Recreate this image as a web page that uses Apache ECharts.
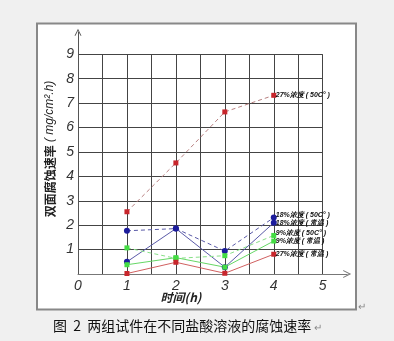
<!DOCTYPE html>
<html><head><meta charset="utf-8">
<script src="https://cdn.jsdelivr.net/npm/echarts@6/dist/echarts.min.js"></script>
<style>html,body{margin:0;padding:0;background:#f0f0f0;}#c{width:394px;height:341px;}</style>
</head><body><div id="c"></div>
<script>
var times = [1, 2, 3, 4];
var xTicks = [0, 1, 2, 3, 4, 5];
var yTicks = [1, 2, 3, 4, 5, 6, 7, 8, 9];
var names = ['27%浓度 ( 50C° )', '18%浓度 ( 50C° )', '18%浓度 ( 常温 )', '9%浓度 ( 50C° )', '9%浓度 ( 常温 )', '27%浓度 ( 常温 )'];
var v27hot = [2.55, 4.55, 6.64, 7.32];
var v18hot = [1.77, 1.86, 0.94, 2.31];
var v18room = [0.50, 1.86, 0.28, 2.10];
var v9hot = [1.07, 0.64, 0.75, 1.58];
var v9room = [0.38, 0.67, 0.28, 1.35];
var v27room = [0.02, 0.48, 0.03, 0.81];
var yTitle = '双面腐蚀速率';
var yUnit = '( mg/cm².h)';
var xTitle = '时间(h)';
var caption = '图  2  两组试件在不同盐酸溶液的腐蚀速率';

function pts(v){ return times.map(function(t,i){ return [t, v[i]]; }); }
var chevron = 'path://M0,10 L5,0 L10,10 L8.6,10 L5,2.8 L1.4,10 Z';
var lblStyle = {show:true, formatter:'{a}', distance:2, fontSize:7, fontWeight:'bold', fontStyle:'italic', color:'#111', fontFamily:'Arial'};
function ser(i, v, sym, symColor, lineColor, dashed, offY){
  return {
    name: names[i], type:'line', xAxisIndex:0, yAxisIndex:0, data: pts(v),
    symbol: sym, symbolSize: sym==='rect'?5:6, showSymbol:true,
    itemStyle:{color:symColor}, lineStyle:{color:lineColor, width:1, type: dashed?[4,3]:'solid'},
    endLabel: Object.assign({}, lblStyle, {offset:[0, offY||0]}),
    animation:false
  };
}
var chart = echarts.init(document.getElementById('c'));
var axLabel = {fontSize:14, fontStyle:'italic', color:'#333', fontFamily:'Arial'};
chart.setOption({
  backgroundColor:'#f0f0f0',
  animation:false,
  grid:[
    {left:78, right:71.3, top:54.3, bottom:67},
    {left:78, right:46.8, top:32.3, bottom:67}
  ],
  xAxis:[
    {type:'value', gridIndex:0, min:0, max:5, interval:0.5,
     axisLine:{show:false}, axisTick:{show:false},
     splitLine:{show:true, lineStyle:{color:'#444', width:1}},
     axisLabel:Object.assign({}, axLabel, {margin:5, formatter:function(v){ return xTicks.indexOf(v)>=0 ? String(v) : ''; }})},
    {type:'value', gridIndex:1, min:0, max:5.5,
     axisLine:{show:true, lineStyle:{color:'#777', width:1}, symbol:['none', chevron], symbolSize:[8,9]},
     axisTick:{show:false}, axisLabel:{show:false}, splitLine:{show:false}}
  ],
  yAxis:[
    {type:'value', gridIndex:0, min:0, max:9, interval:1,
     axisLine:{show:false}, axisTick:{show:false},
     splitLine:{show:true, lineStyle:{color:'#444', width:1}},
     axisLabel:Object.assign({}, axLabel, {margin:4, formatter:function(v){ return yTicks.indexOf(v)>=0 ? String(v) : ''; }})},
    {type:'value', gridIndex:1, min:0, max:9.9,
     axisLine:{show:true, lineStyle:{color:'#555', width:1}, symbol:['none', chevron], symbolSize:[7,8]},
     axisTick:{show:false}, axisLabel:{show:false}, splitLine:{show:false}}
  ],
  graphic:[
    {type:'rect', z:-10, shape:{x:37, y:23.5, width:319, height:286}, style:{fill:'#ffffff', stroke:'#888', lineWidth:2}},
    {type:'text', x:50, y:149, rotation:Math.PI/2, style:{
      text:'{a|'+yTitle+'} {b|'+yUnit+'}', align:'center', verticalAlign:'middle',
      rich:{a:{fontSize:12, fontWeight:'bold', fill:'#222', fontFamily:'Noto Sans CJK SC'},
            b:{fontSize:12, fontStyle:'italic', fill:'#222', fontFamily:'Arial'}}}},
    {type:'text', x:181, y:297, style:{text:xTitle, align:'center', verticalAlign:'middle',
      fontSize:12, fontWeight:'bold', fontStyle:'italic', fill:'#222', fontFamily:'Noto Sans CJK SC'}},
    {type:'text', x:53, y:326, style:{text:caption, align:'left', verticalAlign:'middle',
      fontSize:14, fill:'#111', fontFamily:'Noto Sans CJK SC'}},
    {type:'text', x:314, y:328, style:{text:'↵', align:'left', verticalAlign:'middle', fontSize:10, fill:'#888'}},
    {type:'text', x:358, y:307, style:{text:'↵', align:'left', verticalAlign:'middle', fontSize:10, fill:'#888'}}
  ],
  series:[
    ser(0, v27hot, 'rect', '#c8262c', '#b88080', true, 0),
    ser(1, v18hot, 'circle', '#1c1c9c', '#5a5aa8', true, -3),
    ser(2, v18room, 'circle', '#1c1c9c', '#5a5aa8', false, 0),
    ser(3, v9hot, 'rect', '#44dd44', '#88e088', true, -2),
    ser(4, v9room, 'rect', '#44dd44', '#66d866', false, 0),
    ser(5, v27room, 'rect', '#c8262c', '#d06060', false, 0)
  ]
});
</script></body></html>
